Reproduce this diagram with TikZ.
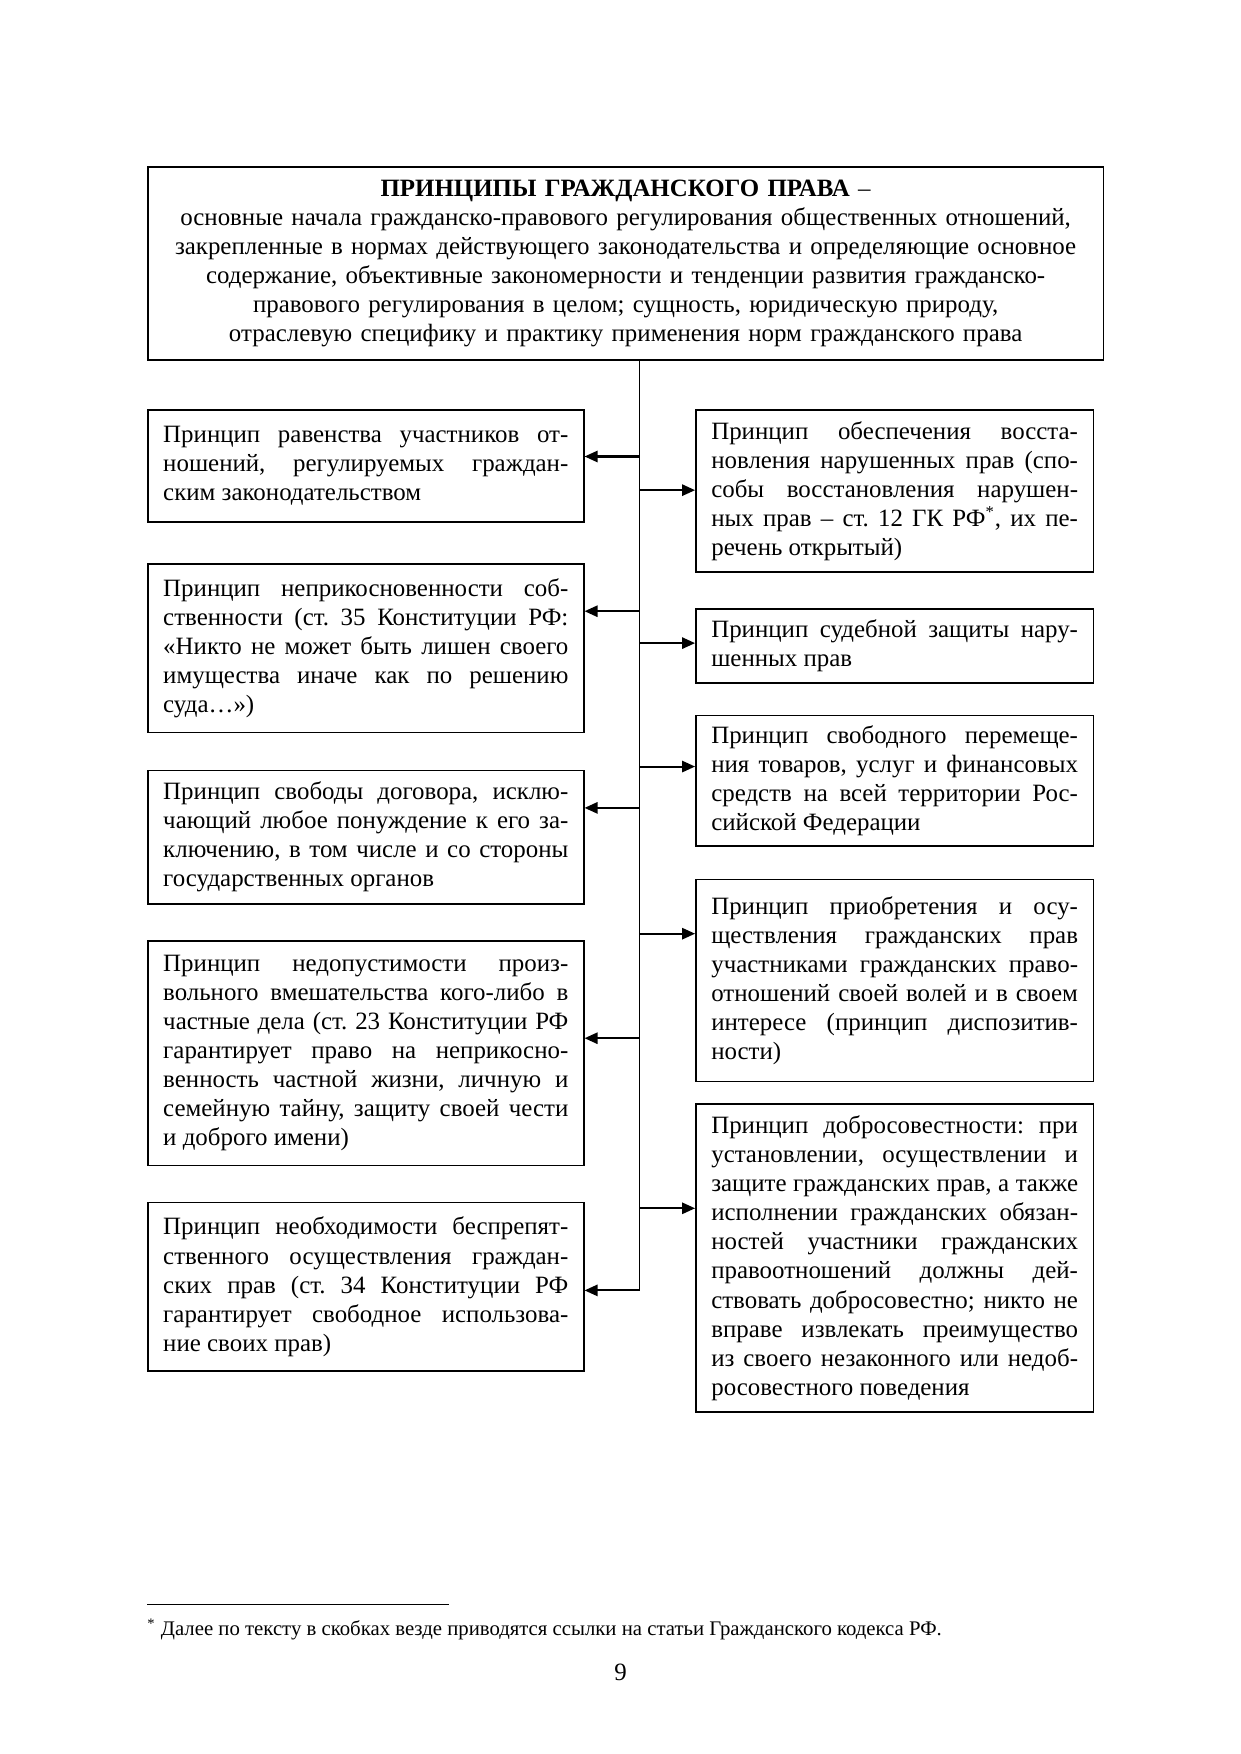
\documentclass[tikz,border=0pt]{standalone}
\usepackage{fontspec}
\setmainfont{Liberation Serif}
\usetikzlibrary{arrows.meta}
\hyphenpenalty=10000 \exhyphenpenalty=10000 \tolerance=9999 \relax
\frenchspacing

\begin{document}
\begin{tikzpicture}[
    box/.style={draw, line width=0.8pt, anchor=north west, inner xsep=0.26cm, inner ysep=0pt,
        align=justify, font=\fontsize{12}{14}\selectfont},
    leftbox/.style={box, text width=6.86cm},
    rightbox/.style={box, text width=6.21cm},
    arr/.style={-{Triangle[length=2.2mm,width=1.9mm]}, line width=1pt}
]
    \useasboundingbox (0,0) rectangle (21,29.7);

    % top box
    \node[box, text width=15.66cm, minimum height=3.27cm, align=center] (Top) at (2.49,26.89)
        {\textbf{ПРИНЦИПЫ ГРАЖДАНСКОГО ПРАВА} –\\
        основные начала гражданско-правового регулирования общественных отношений,\\
        закрепленные в нормах действующего законодательства и определяющие основное\\
        содержание, объективные закономерности и тенденции развития гражданско-\\
        правового регулирования в целом; сущность, юридическую природу,\\
        отраслевую специфику и практику применения норм гражданского права};

    % left column
    \node[leftbox, minimum height=1.90cm] (L1) at (2.49,22.77)
        {Принцип равенства участников от-\linebreak ношений, регулируемых граждан-\linebreak ским законодательством};
    \node[leftbox, minimum height=2.85cm] (L2) at (2.49,20.16)
        {Принцип неприкосновенности соб-\linebreak ственности (ст. 35 Конституции РФ:\linebreak «Никто не может быть лишен своего\linebreak имущества иначе как по решению\linebreak суда…»)};
    \node[leftbox, minimum height=2.26cm] (L3) at (2.49,16.67)
        {Принцип свободы договора, исклю-\linebreak чающий любое понуждение к его за-\linebreak ключению, в том числе и со стороны\linebreak государственных органов};
    \node[leftbox, minimum height=3.80cm] (L4) at (2.49,13.78)
        {Принцип недопустимости произ-\linebreak вольного вмешательства кого-либо в\linebreak частные дела (ст. 23 Конституции РФ\linebreak гарантирует право на неприкосно-\linebreak венность частной жизни, личную и\linebreak семейную тайну, защиту своей чести\linebreak и доброго имени)};
    \node[leftbox, minimum height=2.85cm] (L5) at (2.49,9.35)
        {Принцип необходимости беспрепят-\linebreak ственного осуществления граждан-\linebreak ских прав (ст. 34 Конституции РФ\linebreak гарантирует свободное использова-\linebreak ние своих прав)};

    % right column
    \node[rightbox, minimum height=2.74cm] (R1) at (11.77,22.77)
        {Принцип обеспечения восста-\linebreak новления нарушенных прав (спо-\linebreak собы восстановления нарушен-\linebreak ных прав – ст. 12 ГК РФ\textsuperscript{*}, их пе-\linebreak речень открытый)};
    \node[rightbox, minimum height=1.25cm] (R2) at (11.77,19.40)
        {Принцип судебной защиты нару-\linebreak шенных прав};
    \node[rightbox, minimum height=2.21cm] (R3) at (11.77,17.60)
        {Принцип свободного перемеще-\linebreak ния товаров, услуг и финансовых\linebreak средств на всей территории Рос-\linebreak сийской Федерации};
    \node[rightbox, minimum height=3.42cm] (R4) at (11.77,14.82)
        {Принцип приобретения и осу-\linebreak ществления гражданских прав\linebreak участниками гражданских право-\linebreak отношений своей волей и в своем\linebreak интересе (принцип диспозитив-\linebreak ности)};
    \node[rightbox, minimum height=5.22cm] (R5) at (11.77,11.02)
        {Принцип добросовестности: при\linebreak установлении, осуществлении и\linebreak защите гражданских прав, а также\linebreak исполнении гражданских обязан-\linebreak ностей участники гражданских\linebreak правоотношений должны дей-\linebreak ствовать добросовестно; никто не\linebreak вправе извлекать преимущество\linebreak из своего незаконного или недоб-\linebreak росовестного поведения};

    % trunk
    \coordinate (t0) at (10.83,23.62);
    \coordinate (a1) at (10.83,21.97);
    \coordinate (b1) at (10.83,21.40);
    \coordinate (a2) at (10.83,19.35);
    \coordinate (b2) at (10.83,18.81);
    \coordinate (b3) at (10.83,16.72);
    \coordinate (a3) at (10.83,16.02);
    \coordinate (b4) at (10.83,13.89);
    \coordinate (a4) at (10.83,12.12);
    \coordinate (b5) at (10.83,9.24);
    \coordinate (a5) at (10.83,7.85);

    \draw[line width=0.8pt] (t0) -- (a5);

    \draw[arr] (a1) -- (a1 -| L1.east);
    \draw[arr] (a2) -- (a2 -| L2.east);
    \draw[arr] (a3) -- (a3 -| L3.east);
    \draw[arr] (a4) -- (a4 -| L4.east);
    \draw[arr] (a5) -- (a5 -| L5.east);
    \draw[arr] (b1) -- (b1 -| R1.west);
    \draw[arr] (b2) -- (b2 -| R2.west);
    \draw[arr] (b3) -- (b3 -| R3.west);
    \draw[arr] (b4) -- (b4 -| R4.west);
    \draw[arr] (b5) -- (b5 -| R5.west);

    % footnote and page number
    \coordinate (fn0) at (2.49,2.53);
    \coordinate (fn1) at (7.60,2.53);
    \draw[line width=0.6pt] (fn0) -- (fn1);
    \node[anchor=west, inner sep=0pt, font=\fontsize{10}{12}\selectfont] (Note) at (2.49,2.11)
        {\textsuperscript{*} Далее по тексту в скобках везде приводятся ссылки на статьи Гражданского кодекса РФ.};
    \node[font=\fontsize{12}{14}\selectfont] (Page) at (10.51,1.39) {9};
\end{tikzpicture}
\end{document}
